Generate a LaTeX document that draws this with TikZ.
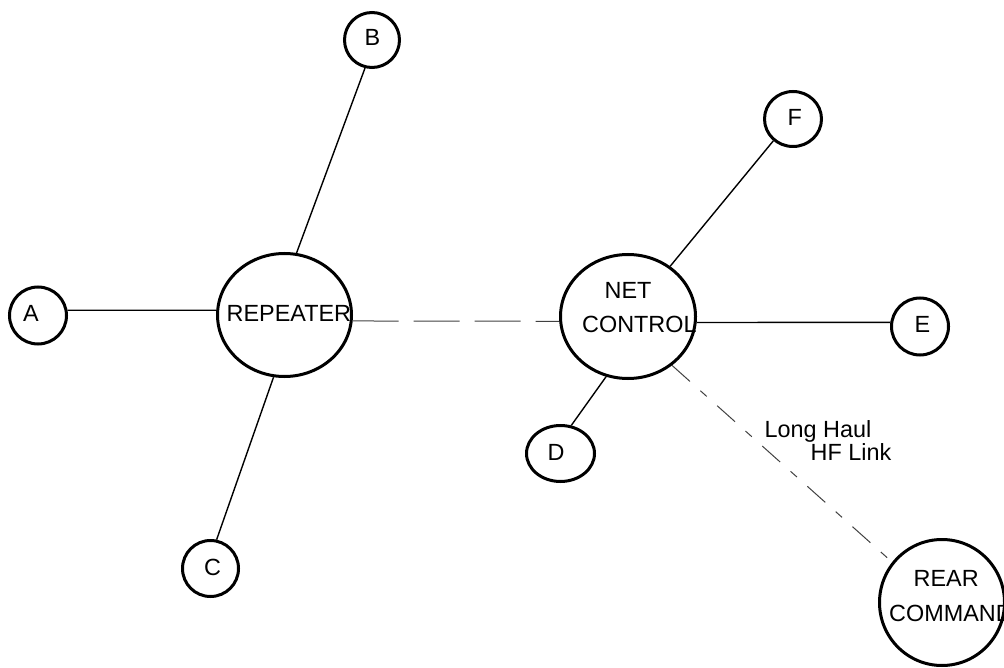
\documentclass[tikz,border=0pt]{standalone}
\usepackage{fontspec}
\setmainfont{Liberation Sans}
\usetikzlibrary{shapes.geometric}
\begin{document}
\begin{tikzpicture}[x=1pt,y=-1pt,
  station/.style={draw, ellipse, line width=3pt, inner sep=0pt},
  lbl/.style={inner sep=0pt, anchor=base west, font=\fontsize{23.4}{28}\selectfont},
  link/.style={line width=1.4pt},
  radiolink/.style={line width=1pt, draw=black!75, dash pattern=on 46pt off 15pt},
  hflink/.style={line width=1pt, draw=black!75, dash pattern=on 24pt off 14pt on 8.5pt off 14pt}]
\useasboundingbox (0,0) rectangle (1004,668);
% stations
\node[station, minimum width=57pt, minimum height=57pt] (A) at (38,315.5) {};
\node[station, minimum width=55pt, minimum height=55pt] (B) at (372,40) {};
\node[station, minimum width=56pt, minimum height=56pt] (C) at (210.5,568.5) {};
\node[station, minimum width=68pt, minimum height=56pt] (D) at (560.5,453.5) {};
\node[station, minimum width=57pt, minimum height=57pt] (E) at (920,326.5) {};
\node[station, minimum width=57pt, minimum height=55pt] (F) at (793,119) {};
\node[station, minimum width=134pt, minimum height=123pt] (rep) at (284.5,315) {};
\node[station, minimum width=135pt, minimum height=124pt] (nc) at (628,316.5) {};
\node[station, minimum width=125pt, minimum height=126pt] (rear) at (942,602.5) {};
% texts
\node[lbl] (At) at (23,322) {A};
\node[lbl] (Bt) at (364.5,46) {B};
\node[lbl] (Ct) at (204,575) {C};
\node[lbl] (Dt) at (547.5,460) {D};
\node[lbl] (Et) at (914.5,333) {E};
\node[lbl] (Ft) at (787.5,126) {F};
\node[lbl] (rept) at (226.5,322) {REPEATER};
\node[lbl] (nett) at (604.5,299) {NET};
\node[lbl] (ctlt) at (582,333) {CONTROL};
\node[lbl] (reart) at (913.5,586) {REAR};
\node[lbl] (cmdt) at (889,621) {COMMAND};
\node[lbl] (lh) at (764.5,437) {Long Haul};
\node[lbl] (hf) at (810.5,460) {HF Link};
% connectors
\draw[link] (A.10) -- (rep.176);
\draw[link] (B.-104) -- (rep.79);
\draw[link] (rep.-100) -- (C.78);
\draw[link] (nc.50) -- (F.-132);
\draw[link] (nc.-5) -- (E.172);
\draw[link] (nc.-110) -- (D.69);
\draw[radiolink] (rep.-5) -- (nc.184);
\draw[hflink] (nc.-48) -- (rear.141);
\end{tikzpicture}
\end{document}
